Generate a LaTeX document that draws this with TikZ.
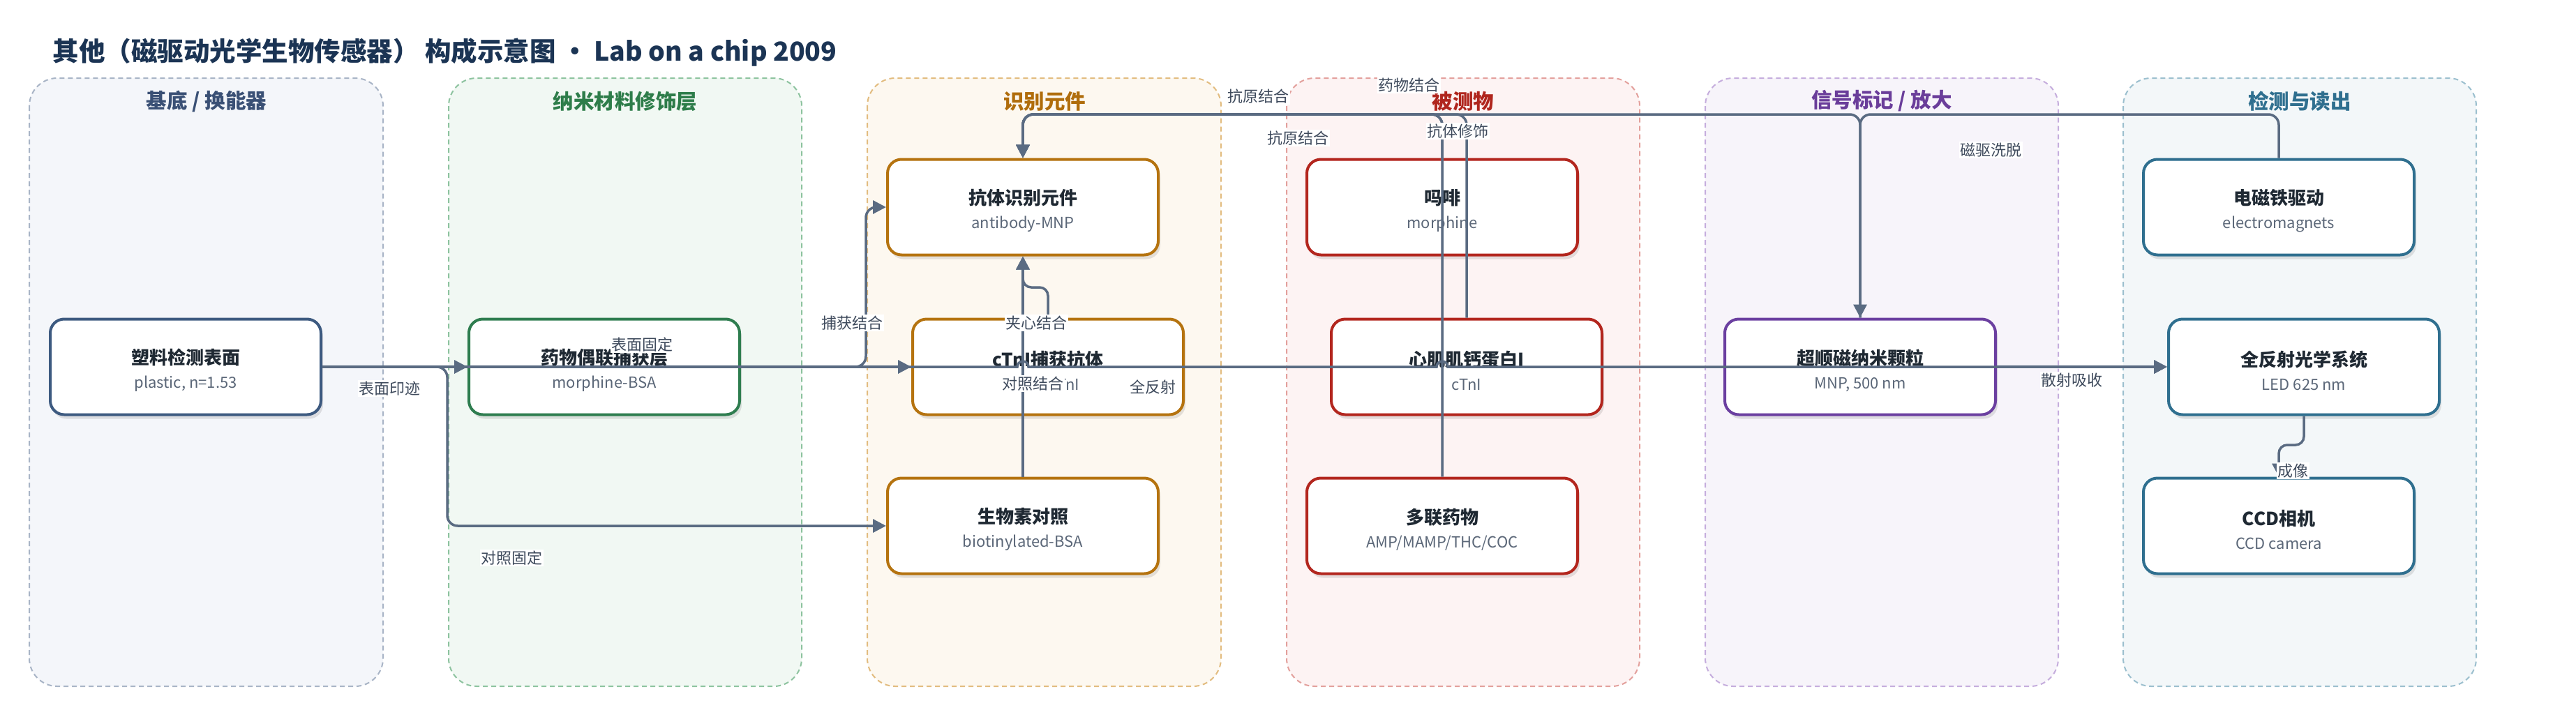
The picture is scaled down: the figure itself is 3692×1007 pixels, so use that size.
\documentclass[tikz,border=0pt]{standalone}
\usepackage{fontspec}
\setmainfont{Noto Sans CJK SC}
\usetikzlibrary{arrows.meta,calc,shadows}
\definecolor{titleblue}{HTML}{1B3454}
\definecolor{edgec}{HTML}{5A6B82}
\definecolor{lblc}{HTML}{3E4A5C}
\definecolor{ntc}{HTML}{1F2933}
\definecolor{subc}{HTML}{5B6778}
\definecolor{ca}{HTML}{3D5A80}\definecolor{cafill}{HTML}{F4F6FA}\definecolor{caline}{HTML}{A8B4C6}\definecolor{catit}{HTML}{3A5075}
\definecolor{cb}{HTML}{2E7D4F}\definecolor{cbfill}{HTML}{F1F8F3}\definecolor{cbline}{HTML}{8DC39F}\definecolor{cbtit}{HTML}{2E7D4A}
\definecolor{cc}{HTML}{B5730F}\definecolor{ccfill}{HTML}{FDF8F0}\definecolor{ccline}{HTML}{E2BC7F}\definecolor{cctit}{HTML}{B06D0C}
\definecolor{cd}{HTML}{B3261E}\definecolor{cdfill}{HTML}{FDF3F3}\definecolor{cdline}{HTML}{E3A09C}\definecolor{cdtit}{HTML}{B0261E}
\definecolor{ce}{HTML}{6B3FA0}\definecolor{cefill}{HTML}{F7F4FA}\definecolor{celine}{HTML}{C5ADDD}\definecolor{cetit}{HTML}{6A3D9A}
\definecolor{cf}{HTML}{2F6F8F}\definecolor{cffill}{HTML}{F3F7F9}\definecolor{cfline}{HTML}{9BBFCE}\definecolor{cftit}{HTML}{2F6F8F}
\newcommand\ntx[2]{{\fontsize{26}{34}\selectfont\bfseries\color{ntc}\rule{0pt}{33pt}#1}\\{\color{subc}#2}}
\begin{document}
\begin{tikzpicture}[x=1pt,y=-1pt,
  lanebox/.style n args={2}{draw=#1,fill=#2,line width=2pt,dash pattern=on 7pt off 5pt,rounded corners=40pt},
  lanetitle/.style={font=\fontsize{29.5}{32}\selectfont\bfseries,text=#1},
  nodebox/.style={draw=#1,fill=white,line width=4pt,rounded corners=20pt,minimum width=388pt,minimum height=137pt,
     align=center,inner sep=0pt,font=\fontsize{22}{34}\selectfont,
     drop shadow={shadow xshift=3pt,shadow yshift=-6pt,fill=black,opacity=0.10}},
  edge/.style={draw=edgec,line width=3.5pt,-{Triangle[length=19pt,width=19pt]}},
  lbl/.style={font=\fontsize{22}{24}\selectfont,text=lblc,fill=white,inner sep=1.5pt}]
\useasboundingbox[fill=white] (0,0) rectangle (3692,1007);
% lanes
\path[lanebox={caline}{cafill}] (42,112) rectangle (549,984);
\path[lanebox={cbline}{cbfill}] (643,112) rectangle (1149,984);
\path[lanebox={ccline}{ccfill}] (1243,112) rectangle (1750,984);
\path[lanebox={cdline}{cdfill}] (1844,112) rectangle (2350,984);
\path[lanebox={celine}{cefill}] (2444,112) rectangle (2950,984);
\path[lanebox={cfline}{cffill}] (3043,112) rectangle (3549,984);
\node[lanetitle=catit] (t1) at (296,145) {基底 / 换能器};
\node[lanetitle=cbtit] (t2) at (896,145) {纳米材料修饰层};
\node[lanetitle=cctit] (t3) at (1497,145) {识别元件};
\node[lanetitle=cdtit] (t4) at (2097,145) {被测物};
\node[lanetitle=cetit] (t5) at (2697,145) {信号标记 / 放大};
\node[lanetitle=cftit] (t6) at (3296,145) {检测与读出};
% title
\node[anchor=west,font=\fontsize{37.5}{42}\selectfont\bfseries,text=titleblue] (title) at (72,75) {其他（磁驱动光学生物传感器） 构成示意图 · Lab on a chip 2009};
% nodes
\node[nodebox=ca] (n1) at (266,526) {\ntx{塑料检测表面}{plastic, n=1.53}};
\node[nodebox=cb] (n2) at (866,526) {\ntx{药物偶联捕获层}{morphine-BSA}};
\node[nodebox=cc] (n3) at (1466,297) {\ntx{抗体识别元件}{antibody-MNP}};
\node[nodebox=cc] (n4) at (1502,526) {\ntx{cTnI捕获抗体}{anti-cTnI}};
\node[nodebox=cc] (n5) at (1466,754) {\ntx{生物素对照}{biotinylated-BSA}};
\node[nodebox=cd] (n6) at (2067,297) {\ntx{吗啡}{morphine}};
\node[nodebox=cd] (n7) at (2102,526) {\ntx{心肌肌钙蛋白I}{cTnI}};
\node[nodebox=cd] (n8) at (2067,754) {\ntx{多联药物}{AMP/MAMP/THC/COC}};
\node[nodebox=ce] (n9) at (2666,526) {\ntx{超顺磁纳米颗粒}{MNP, 500 nm}};
\node[nodebox=cf] (n10) at (3266,297) {\ntx{电磁铁驱动}{electromagnets}};
\node[nodebox=cf] (n11) at (3302,526) {\ntx{全反射光学系统}{LED 625 nm}};
\node[nodebox=cf] (n12) at (3266,754) {\ntx{CCD相机}{CCD camera}};
% routing coordinates
\coordinate (top) at (0,164);
\coordinate (j1) at (641,0);
\coordinate (j2) at (1241,0);
\coordinate (j3) at (0,412);
\coordinate (j4) at (0,638);
% edges
\draw[edge] (n1.east) -- (n2.west);
\draw[edge] (n1.east) -- (n4.west);
\draw[edge,rounded corners=15pt] (n1.east) -- (j1 |- n1.east) -- (j1 |- n5.west) -- (n5.west);
\draw[edge,rounded corners=15pt] (n2.east) -- (j2 |- n2.east) -- (j2 |- n3.west) -- (n3.west);
\draw[edge,rounded corners=12pt] (n4.north) -- (n4.north |- j3) -- (n3.south |- j3) -- (n3.south);
\draw[edge] (n5.north) -- (n3.south);
\draw[edge] (n1.east) -- ($(n5.north |- n1.east)+(-8,0)$) arc[start angle=180,end angle=0,radius=8pt]
   -- ($(n8.north |- n1.east)+(-8,0)$) arc[start angle=180,end angle=0,radius=8pt] -- (n11.west);
\draw[edge,rounded corners=15pt] (n6.north) -- (n6.north |- top) -- (n3.north |- top) -- (n3.north);
\draw[edge,rounded corners=15pt] (n8.north) -- (n8.north |- top) -- (n3.north |- top) -- (n3.north);
\draw[edge,rounded corners=15pt] (n7.north) -- (n7.north |- top) -- (n3.north |- top) -- (n3.north);
\draw[edge,rounded corners=15pt] (n9.north) -- (n9.north |- top) -- (n3.north |- top) -- (n3.north);
\draw[edge,rounded corners=15pt] (n10.north) -- (n10.north |- top) -- (n9.north |- top) -- (n9.north);
\draw[edge] (n9.east) -- (n11.west);
\draw[edge,rounded corners=12pt] (n11.south) -- (n11.south |- j4) -- (n12.north |- j4) -- (n12.north);
% edge labels
\node[lbl] (l1) at (558,557) {表面印迹};
\node[lbl] (l2) at (920,494) {表面固定};
\node[lbl] (l3) at (733,800) {对照固定};
\node[lbl] (l4) at (1221,463) {捕获结合};
\node[lbl] (l5) at (1485,463) {夹心结合};
\node[lbl] (l6) at (1480,550) {对照结合};
\node[lbl] (l7) at (1652,555) {全反射};
\node[lbl] (l8) at (1803,138) {抗原结合};
\node[lbl] (l9) at (1860,198) {抗原结合};
\node[lbl] (l10) at (2019,122) {药物结合};
\node[lbl] (l11) at (2089,188) {抗体修饰};
\node[lbl] (l12) at (2853,215) {磁驱洗脱};
\node[lbl] (l13) at (2969,545) {散射吸收};
\node[lbl] (l14) at (3286,675) {成像};
\end{tikzpicture}
\end{document}
